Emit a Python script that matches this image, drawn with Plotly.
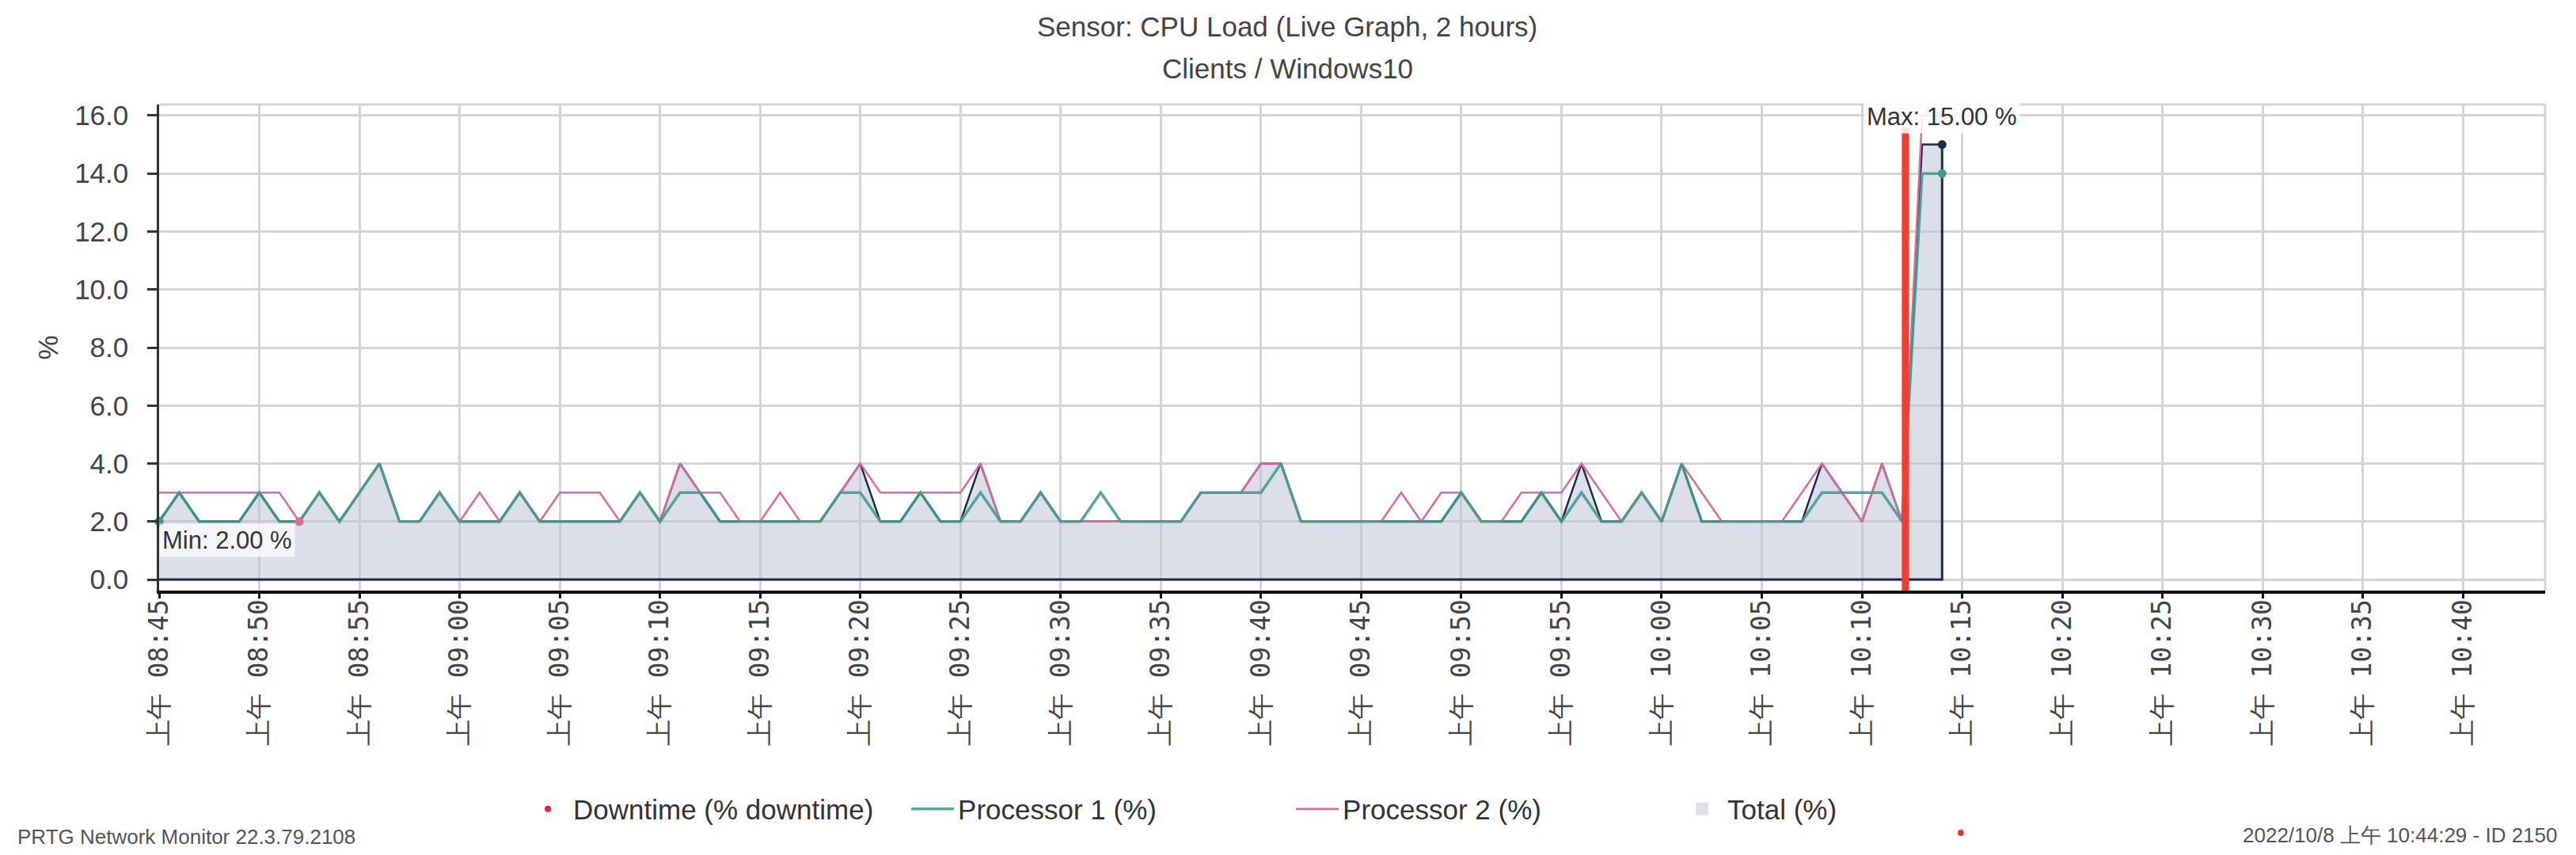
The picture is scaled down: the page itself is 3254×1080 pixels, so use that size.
import plotly.graph_objects as go

# ---------------- data ----------------
DATE = "2022-10-08 "
minutes = [
    "08:45", "08:46", "08:47", "08:48", "08:49", "08:50", "08:51", "08:52", "08:53", "08:54",
    "08:55", "08:56", "08:57", "08:58", "08:59", "09:00", "09:01", "09:02", "09:03", "09:04",
    "09:05", "09:06", "09:07", "09:08", "09:09", "09:10", "09:11", "09:12", "09:13", "09:14",
    "09:15", "09:16", "09:17", "09:18", "09:19", "09:20", "09:21", "09:22", "09:23", "09:24",
    "09:25", "09:26", "09:27", "09:28", "09:29", "09:30", "09:31", "09:32", "09:33", "09:34",
    "09:35", "09:36", "09:37", "09:38", "09:39", "09:40", "09:41", "09:42", "09:43", "09:44",
    "09:45", "09:46", "09:47", "09:48", "09:49", "09:50", "09:51", "09:52", "09:53", "09:54",
    "09:55", "09:56", "09:57", "09:58", "09:59", "10:00", "10:01", "10:02", "10:03", "10:04",
    "10:05", "10:06", "10:07", "10:08", "10:09", "10:10", "10:11", "10:12", "10:13", "10:14",
]
processor1 = [2, 3, 2, 2, 2, 3, 2, 2, 3, 2,  3, 4, 2, 2, 3, 2, 2, 2, 3, 2,
              2, 2, 2, 2, 3, 2, 3, 3, 2, 2,  2, 2, 2, 2, 3, 3, 2, 2, 3, 2,
              2, 3, 2, 2, 3, 2, 2, 3, 2, 2,  2, 2, 3, 3, 3, 3, 4, 2, 2, 2,
              2, 2, 2, 2, 2, 3, 2, 2, 2, 3,  2, 3, 2, 2, 3, 2, 4, 2, 2, 2,
              2, 2, 2, 3, 3, 3, 3, 2, 14, 14]
processor2 = [3, 3, 3, 3, 3, 3, 3, 2, 3, 2,  3, 4, 2, 2, 3, 2, 3, 2, 3, 2,
              3, 3, 3, 2, 3, 2, 4, 3, 3, 2,  2, 3, 2, 2, 3, 4, 3, 3, 3, 3,
              3, 4, 2, 2, 3, 2, 2, 2, 2, 2,  2, 2, 3, 3, 3, 4, 4, 2, 2, 2,
              2, 2, 3, 2, 3, 3, 2, 2, 3, 3,  3, 4, 3, 2, 3, 2, 4, 3, 2, 2,
              2, 2, 3, 4, 3, 2, 4, 2, 16, 16]
total = [2, 3, 2, 2, 2, 3, 2, 2, 3, 2,  3, 4, 2, 2, 3, 2, 2, 2, 3, 2,
         2, 2, 2, 2, 3, 2, 4, 3, 2, 2,  2, 2, 2, 2, 3, 4, 2, 2, 3, 2,
         2, 4, 2, 2, 3, 2, 2, 2, 2, 2,  2, 2, 3, 3, 3, 4, 4, 2, 2, 2,
         2, 2, 2, 2, 2, 3, 2, 2, 2, 3,  2, 4, 2, 2, 3, 2, 4, 2, 2, 2,
         2, 2, 2, 4, 3, 2, 4, 2, 15, 15]
downtime_times = ["10:12:10", "10:12:10"]
downtime_span = [15.6, -0.6]
y_ticks = [0, 2, 4, 6, 8, 10, 12, 14, 16]
y_tick_labels = ["0.0", "2.0", "4.0", "6.0", "8.0", "10.0", "12.0", "14.0", "16.0"]
tick_times = ["08:45", "08:50", "08:55", "09:00", "09:05", "09:10", "09:15", "09:20",
              "09:25", "09:30", "09:35", "09:40", "09:45", "09:50", "09:55", "10:00",
              "10:05", "10:10", "10:15", "10:20", "10:25", "10:30", "10:35", "10:40"]
tick_labels = ["上午 " + t for t in tick_times]
x_range = ["08:45:00", "10:44:06"]

# ---------------- styling ----------------
TEAL = "#3f9d8e"
PINK = "#dc6aa0"
NAVY = "#1b2b4e"
RED = "#f73b2e"
FILL = "rgba(185,192,212,0.5)"
GRID = "#d4d4d4"
FONT = "Liberation Sans, Arial, sans-serif"
YPAD = "\u00a0\u2009"   # keeps the y labels a little away from the ticks

x = [DATE + m for m in minutes]

fig = go.Figure()

# Total area
fig.add_trace(go.Scatter(x=x, y=total, mode="lines", fill="tozeroy", fillcolor=FILL,
                         line=dict(width=0), showlegend=False, hoverinfo="skip"))
# outline (baseline + right edge) of the total area
fig.add_trace(go.Scatter(x=[x[-1], x[-1], x[0]], y=[total[-1], 0, 0], mode="lines",
                         line=dict(color=NAVY, width=3), showlegend=False, hoverinfo="skip"))
# Total line
fig.add_trace(go.Scatter(x=x, y=total, mode="lines", line=dict(color=NAVY, width=2.5),
                         showlegend=False, name="Total (%)"))
# Processor 2
fig.add_trace(go.Scatter(x=x, y=processor2, mode="lines", line=dict(color=PINK, width=2.5),
                         name="Processor 2 (%)", legendrank=3))
# Processor 1
fig.add_trace(go.Scatter(x=x, y=processor1, mode="lines", line=dict(color=TEAL, width=3.5),
                         opacity=0.88, name="Processor 1 (%)", legendrank=2))


def key_points(vals):
    i_min = vals.index(min(vals))
    return [x[i_min], x[-1]], [vals[i_min], vals[-1]]


for vals, col in [(total, NAVY), (processor2, PINK), (processor1, TEAL)]:
    kx, ky = key_points(vals)
    fig.add_trace(go.Scatter(x=kx, y=ky, mode="markers", marker=dict(color=col, size=11),
                             showlegend=False, hoverinfo="skip", cliponaxis=False))

# Downtime
fig.add_trace(go.Scatter(x=[DATE + t for t in downtime_times], y=downtime_span, mode="lines",
                         line=dict(color=RED, width=9), showlegend=False, cliponaxis=False,
                         hoverinfo="skip"))

# legend-only entries
fig.add_trace(go.Scatter(x=[None], y=[None], mode="markers", marker=dict(color="#e8212b", size=8),
                         name="Downtime (% downtime)", legendrank=1))
fig.add_trace(go.Scatter(x=[None], y=[None], mode="markers",
                         marker=dict(color="#dde0e8", size=36, symbol="square"),
                         name="Total (%)", legendrank=4))

i_max = len(total) - 1
fig.add_annotation(x=x[total.index(min(total))], y=min(total), xref="x", yref="y",
                   text="Min: %.2f %%" % min(total), showarrow=False, xanchor="left",
                   yanchor="top", yshift=-2, bgcolor="rgba(255,255,255,0.7)", borderpad=3,
                   font=dict(family=FONT, size=31, color="#333"))
fig.add_annotation(x=x[i_max], y=max(total), xref="x", yref="y",
                   text="Max: %.2f %%" % max(total), showarrow=False, xanchor="center",
                   yanchor="bottom", yshift=14, bgcolor="rgba(255,255,255,0.85)", borderpad=3,
                   font=dict(family=FONT, size=31, color="#333"))

# titles and footer
fig.add_annotation(x=0.4728, y=1.1598, xref="paper", yref="paper", showarrow=False,
                   text="Sensor: CPU Load (Live Graph, 2 hours)", xanchor="center", yanchor="middle",
                   font=dict(family=FONT, size=35, color="#444"))
fig.add_annotation(x=0.4728, y=1.0735, xref="paper", yref="paper", showarrow=False,
                   text="Clients / Windows10", xanchor="center", yanchor="middle",
                   font=dict(family=FONT, size=35, color="#444"))
fig.add_annotation(x=-0.060, y=-0.5063, xref="paper", yref="paper", showarrow=False,
                   text="PRTG Network Monitor 22.3.79.2108", xanchor="left", yanchor="middle",
                   font=dict(family=FONT, size=26, color="#555"))
fig.add_annotation(x=1.006, y=-0.503, xref="paper", yref="paper", showarrow=False,
                   text="2022/10/8 上午 10:44:29 - ID 2150", xanchor="right", yanchor="middle",
                   font=dict(family=FONT, size=26, color="#555"))

# border lines and stray dot
fig.add_shape(type="line", xref="paper", yref="paper", x0=0, x1=1, y0=1, y1=1,
              line=dict(color=GRID, width=3), layer="below")
fig.add_shape(type="line", xref="paper", yref="paper", x0=1, x1=1, y0=0, y1=1,
              line=dict(color=GRID, width=3), layer="below")
fig.add_shape(type="circle", xref="paper", yref="paper", x0=0.7538, x1=0.7564,
              y0=-0.5049, y1=-0.4919, fillcolor="#f0302a", line=dict(width=0))

fig.update_layout(
    width=3254, height=1080,
    margin=dict(l=193, r=47, t=124, b=342),
    paper_bgcolor="white", plot_bgcolor="white",
    font=dict(family=FONT, color="#333"),
    showlegend=True,
    legend=dict(orientation="h", x=0.1523, y=-0.4495, xanchor="left", yanchor="middle",
                font=dict(family=FONT, size=35, color="#333"), itemwidth=54,
                entrywidth=417, entrywidthmode="pixels", bgcolor="rgba(0,0,0,0)"),
    xaxis=dict(type="date", range=[DATE + x_range[0], DATE + x_range[1]],
               tickvals=[DATE + t for t in tick_times], ticktext=tick_labels, tickangle=-90,
               tickfont=dict(family="DejaVu Sans Mono, monospace", size=33, color="#444"),
               ticks="outside", ticklen=6, tickwidth=3, tickcolor="#111",
               showline=True, linecolor="#111", linewidth=4,
               showgrid=True, gridcolor=GRID, gridwidth=2.5, zeroline=False,
               ticklabelstandoff=-12),
    yaxis=dict(range=[-0.38, 16.38], tickvals=y_ticks,
               ticktext=[t + YPAD for t in y_tick_labels],
               tickfont=dict(family=FONT, size=35, color="#444"),
               ticks="outside", ticklen=12, tickwidth=3, tickcolor="#333",
               showline=True, linecolor="#333", linewidth=3,
               showgrid=True, gridcolor=GRID, gridwidth=3, zeroline=False,
               title=dict(text="%", font=dict(family=FONT, size=35, color="#444"), standoff=10)),
)

fig.write_html("out.html")
